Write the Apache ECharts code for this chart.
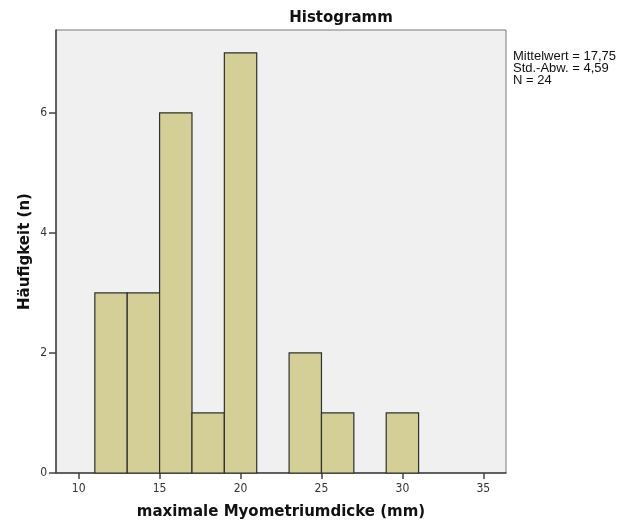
<!DOCTYPE html>
<html>
<head>
<meta charset="utf-8">
<script src="https://cdn.jsdelivr.net/npm/echarts@6/dist/echarts.min.js"></script>
<style>
  html, body { margin: 0; padding: 0; background: #ffffff; }
  #chart { width: 629px; height: 521px; }
</style>
</head>
<body>
<div id="chart"></div>
<script>
// Histogram bins (mm): lower edge, upper edge, count
const binStarts = [11, 13, 15, 17, 19, 21, 23, 25, 27, 29];
const binEnds   = [13, 15, 17, 19, 21, 23, 25, 27, 29, 31];
const counts    = [3, 3, 6, 1, 7, 0, 2, 1, 0, 1];

const xTicks = [10, 15, 20, 25, 30, 35];
const yTicks = [0, 2, 4, 6];

const statLines = ['Mittelwert = 17,75', 'Std.-Abw. = 4,59', 'N = 24'];

const FONT = 'DejaVu Sans';
const TICK_FONT = 'DejaVu Sans Condensed';

const chart = echarts.init(document.getElementById('chart'), null, { renderer: 'canvas' });

const binData = binStarts.map((s, i) => [s, binEnds[i], counts[i]]);

chart.setOption({
  animation: false,
  backgroundColor: '#ffffff',
  title: {
    text: 'Histogramm',
    left: 336,
    textAlign: 'center',
    top: 6,
    textStyle: { fontFamily: FONT, fontSize: 15, fontWeight: 'bold', color: '#111' }
  },
  grid: {
    left: 56, top: 30, right: 123, bottom: 48,
    outerBoundsMode: 'none',
    containLabel: false,
    show: true,
    backgroundColor: '#f0f0f0',
    borderColor: '#7a7a7a',
    borderWidth: 1
  },
  xAxis: {
    type: 'value',
    min: 8.6,
    max: 36.4,
    name: 'maximale Myometriumdicke (mm)',
    nameLocation: 'middle',
    nameGap: 32,
    nameMoveOverlap: false,
    nameTextStyle: { fontFamily: FONT, fontSize: 15, fontWeight: 'bold', color: '#111' },
    axisLine: { show: true, onZero: false, lineStyle: { color: '#444', width: 1.5 } },
    axisTick: { show: true, length: 6, customValues: xTicks, lineStyle: { color: '#444', width: 1.5 } },
    axisLabel: { customValues: xTicks, fontFamily: TICK_FONT, fontSize: 12, color: '#333', margin: 10 },
    splitLine: { show: false }
  },
  yAxis: {
    type: 'value',
    min: 0,
    max: 7.38,
    name: 'Häufigkeit (n)',
    nameLocation: 'middle',
    nameGap: 23,
    nameMoveOverlap: false,
    nameTextStyle: { fontFamily: FONT, fontSize: 15, fontWeight: 'bold', color: '#111' },
    axisLine: { show: true, lineStyle: { color: '#444', width: 1.5 } },
    axisTick: { show: true, length: 7, customValues: yTicks, lineStyle: { color: '#444', width: 1.5 } },
    axisLabel: { customValues: yTicks, fontFamily: TICK_FONT, fontSize: 12, color: '#333', margin: 9 },
    splitLine: { show: false }
  },
  series: [{
    type: 'custom',
    data: binData,
    encode: { x: [0, 1], y: 2 },
    renderItem: function (params, api) {
      const h = api.value(2);
      if (!h) return null;
      const p0 = api.coord([api.value(0), 0]);
      const p1 = api.coord([api.value(1), h]);
      return {
        type: 'rect',
        shape: { x: p0[0], y: p1[1], width: p1[0] - p0[0], height: p0[1] - p1[1] },
        style: { fill: '#d3cf97', stroke: '#2f2f2f', lineWidth: 1.2 }
      };
    }
  }],
  graphic: statLines.map((t, i) => ({
    type: 'text',
    left: 513,
    top: 50 + i * 12,
    style: { text: t, fontFamily: 'Liberation Sans', fontSize: 13, fill: '#111' }
  }))
});
</script>
</body>
</html>
